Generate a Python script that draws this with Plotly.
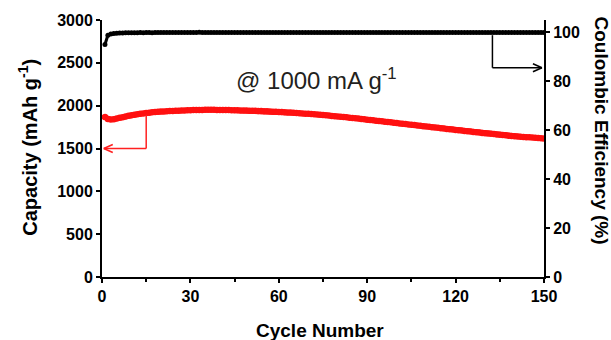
import plotly.graph_objects as go

cycles = list(range(1, 151))

capacity = [
    1868, 1845, 1838, 1842, 1850, 1858, 1866, 1874, 1881, 1888,
    1894, 1900, 1905, 1910, 1914, 1918, 1922, 1925, 1928, 1931,
    1933, 1935, 1937, 1939, 1941, 1942, 1944, 1945, 1946, 1947,
    1948, 1949, 1950, 1950, 1951, 1951, 1951, 1951, 1950, 1950,
    1949, 1949, 1948, 1947, 1947, 1946, 1945, 1944, 1943, 1942,
    1941, 1940, 1938, 1937, 1935, 1934, 1932, 1930, 1929, 1927,
    1925, 1923, 1921, 1919, 1917, 1914, 1912, 1910, 1907, 1905,
    1902, 1899, 1896, 1893, 1890, 1887, 1884, 1880, 1877, 1874,
    1871, 1867, 1864, 1860, 1857, 1853, 1849, 1845, 1841, 1837,
    1833, 1829, 1825, 1821, 1817, 1813, 1809, 1805, 1801, 1797,
    1793, 1789, 1785, 1781, 1777, 1773, 1769, 1765, 1761, 1757,
    1753, 1749, 1745, 1741, 1737, 1733, 1729, 1725, 1721, 1717,
    1713, 1709, 1705, 1701, 1697, 1693, 1690, 1686, 1682, 1678,
    1675, 1671, 1668, 1664, 1661, 1657, 1654, 1650, 1647, 1644,
    1641, 1638, 1635, 1632, 1630, 1627, 1625, 1622, 1620, 1618,
]

efficiency = [
    95.0, 98.8, 99.3, 99.5, 99.6, 99.7, 99.7, 99.8, 99.8, 99.8,
    99.8, 99.8, 99.9, 99.8, 99.9, 99.9, 99.8, 99.9, 99.9, 99.9,
    99.9, 99.9, 99.9, 99.9, 99.9, 99.9, 99.9, 99.9, 99.9, 99.9,
    99.9, 99.9, 100.0, 99.9, 99.9, 99.9, 99.9, 99.9, 99.9, 99.9,
    99.9, 99.9, 99.9, 99.9, 99.9, 99.9, 99.9, 99.9, 99.9, 99.9,
    99.9, 99.9, 99.9, 99.9, 99.9, 99.9, 99.9, 99.9, 99.9, 99.9,
    99.9, 99.9, 99.9, 99.9, 99.9, 99.9, 99.9, 99.9, 99.9, 99.9,
    99.9, 99.9, 99.9, 99.9, 99.9, 99.9, 99.9, 99.9, 99.9, 99.9,
    99.9, 99.9, 99.9, 99.9, 99.9, 99.9, 99.9, 99.9, 99.9, 99.9,
    99.9, 99.9, 99.9, 99.9, 99.9, 99.9, 99.9, 99.9, 99.9, 99.9,
    99.9, 99.9, 99.9, 99.9, 99.9, 99.9, 99.9, 99.9, 99.9, 99.9,
    99.9, 99.9, 99.9, 99.9, 99.9, 99.9, 99.9, 99.9, 99.9, 99.9,
    99.9, 99.9, 99.9, 99.9, 99.9, 99.9, 99.9, 99.9, 99.9, 99.9,
    99.9, 99.9, 99.9, 99.9, 99.9, 99.9, 99.9, 99.9, 99.9, 99.9,
    99.9, 99.9, 99.9, 99.9, 99.9, 99.9, 99.9, 99.9, 99.9, 99.9,
]

x_ticks = [0, 30, 60, 90, 120, 150]
cap_ticks = [0, 500, 1000, 1500, 2000, 2500, 3000]
ce_ticks = [0, 20, 40, 60, 80, 100]

FONT = "Arial, 'Liberation Sans', sans-serif"

fig = go.Figure()
fig.add_trace(go.Scatter(
    x=cycles, y=capacity, mode="lines+markers",
    line=dict(color="#ff1010", width=5),
    marker=dict(color="#ff1010", size=6.5, symbol="circle"),
    showlegend=False, yaxis="y",
))
fig.add_trace(go.Scatter(
    x=cycles, y=efficiency, mode="lines+markers",
    line=dict(color="black", width=3),
    marker=dict(color="black", size=5, symbol="circle"),
    showlegend=False, yaxis="y2",
))

axis_common = dict(
    showline=True, linecolor="black", linewidth=2,
    ticks="outside", ticklen=4, tickwidth=1.5, tickcolor="black",
    showgrid=False, zeroline=False,
    tickfont=dict(family=FONT, size=16, color="black", weight="bold"),
)

fig.update_layout(
    width=611, height=340,
    margin=dict(l=102, r=67, t=20, b=63),
    paper_bgcolor="white", plot_bgcolor="white",
    font=dict(family=FONT, color="black"),
    xaxis=dict(
        range=[0, 150], tickvals=x_ticks, mirror=False,
        minor=dict(dtick=15, ticklen=3, ticks="outside", tickcolor="black"),
        **axis_common,
    ),
    xaxis2=dict(overlaying="x", range=[0, 150], showline=True, linecolor="black",
                linewidth=2, side="top", showticklabels=False, ticks="",
                showgrid=False, zeroline=False),
    yaxis=dict(range=[0, 3000], tickvals=cap_ticks, **axis_common),
    yaxis2=dict(range=[0, 105], tickvals=ce_ticks, overlaying="y", side="right",
                **axis_common),
)


def pixel_line(xref, yref, xa, ya, dx0, dy0, dx1, dy1, color):
    fig.add_shape(type="line", xref=xref, yref=yref,
                  xsizemode="pixel", ysizemode="pixel", xanchor=xa, yanchor=ya,
                  x0=dx0, y0=dy0, x1=dx1, y1=dy1,
                  line=dict(color=color, width=1.5))


# red arrow: from the capacity curve down, then left to the left axis
red_arrow = "#ff2020"
fig.add_shape(type="line", xref="x", yref="y", x0=15, x1=15, y0=1895, y1=1500,
              line=dict(color=red_arrow, width=1.5))
fig.add_shape(type="line", xref="x", yref="y", x0=15, x1=0.6, y0=1500, y1=1500,
              line=dict(color=red_arrow, width=1.5))
pixel_line("x", "y", 0.6, 1500, 0, 0, 9, 4, red_arrow)
pixel_line("x", "y", 0.6, 1500, 0, 0, 9, -4, red_arrow)

# black arrow: from the efficiency curve down, then right to the right axis
fig.add_shape(type="line", xref="x", yref="y2", x0=132.5, x1=132.5, y0=98.8, y1=85.5,
              line=dict(color="black", width=1.5))
fig.add_shape(type="line", xref="x", yref="y2", x0=132.5, x1=149.3, y0=85.5, y1=85.5,
              line=dict(color="black", width=1.5))
pixel_line("x", "y2", 149.3, 85.5, 0, 0, -9, 4, "black")
pixel_line("x", "y2", 149.3, 85.5, 0, 0, -9, -4, "black")

# texts
fig.add_annotation(x=0.486, y=0.77, xref="paper", yref="paper", showarrow=False,
                   xanchor="center", yanchor="middle",
                   text="@ 1000 mA g<sup>-1</sup>",
                   font=dict(family=FONT, size=24, color="#231f20"))
fig.add_annotation(x=0, y=0.503, xref="paper", yref="paper", xshift=-74,
                   xanchor="center", yanchor="middle",
                   showarrow=False, textangle=-90,
                   text="Capacity (mAh g<sup>-1</sup>)",
                   font=dict(family=FONT, size=20, color="black", weight="bold"))
fig.add_annotation(x=1, y=0.57, xref="paper", yref="paper", xshift=57,
                   xanchor="center", yanchor="middle",
                   showarrow=False, textangle=90,
                   text="Coulombic Efficiency (%)",
                   font=dict(family=FONT, size=19, color="black", weight="bold"))
fig.add_annotation(x=0.493, y=0, xref="paper", yref="paper", yshift=-53,
                   xanchor="center", yanchor="middle",
                   showarrow=False, text="Cycle Number",
                   font=dict(family=FONT, size=19, color="black", weight="bold"))

fig.write_html(
    "out.html",
    config={"displayModeBar": False},
    post_script="document.body.style.margin='0';document.body.style.overflow='hidden';",
)
